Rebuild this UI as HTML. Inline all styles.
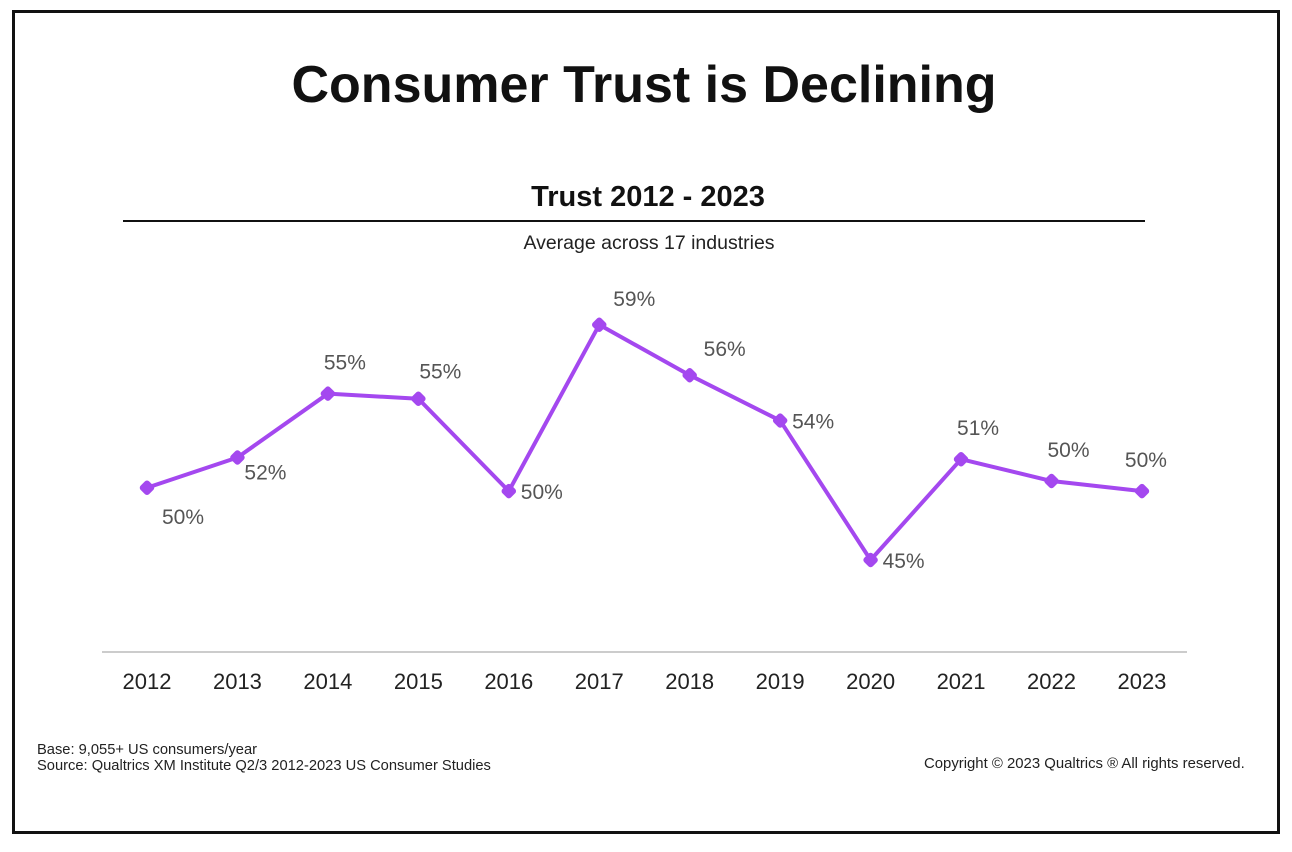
<!DOCTYPE html>
<html><head><meta charset="utf-8"><style>
body{margin:0;background:#fff;width:1292px;height:852px;overflow:hidden;font-family:"Liberation Sans",sans-serif}
#frame{position:absolute;left:12px;top:10px;width:1262px;height:818px;border:3px solid #111;}
.t{position:absolute;white-space:nowrap}
</style></head><body>
<div id="frame"></div>
<div class="t" style="left:0;width:1288px;text-align:center;top:55px;font-size:52px;font-weight:bold;color:#111">Consumer Trust is Declining</div>
<div class="t" style="left:0;width:1296px;text-align:center;top:181px;font-size:29px;font-weight:bold;color:#111">Trust 2012 - 2023</div>
<div style="position:absolute;left:123px;top:220px;width:1022px;height:2px;background:#111"></div>
<div class="t" style="left:0;width:1298px;text-align:center;top:232px;font-size:19.5px;color:#222">Average across 17 industries</div>
<svg id="chart" width="1292" height="852" style="position:absolute;left:0;top:0"></svg>
<div class="t" style="left:37px;top:742px;font-size:14.7px;line-height:16px;color:#222">Base: 9,055+ US consumers/year<br>Source: Qualtrics XM Institute Q2/3 2012-2023 US Consumer Studies</div>
<div class="t" style="left:924px;top:756px;font-size:14.9px;color:#222">Copyright © 2023 Qualtrics ® All rights reserved.</div>
<script>
const years=["2012","2013","2014","2015","2016","2017","2018","2019","2020","2021","2022","2023"];
const values=[49.3,51.1,54.9,54.6,49.1,59.0,56.0,53.3,45.0,51.0,49.7,49.1];
const labels=["50%","52%","55%","55%","50%","59%","56%","54%","45%","51%","50%","50%"];
const placement=["below","belowNear","above","aboveMid","right","aboveRight","aboveRight","right","right","above","above","aboveNear"];
const svg=document.getElementById('chart');
const NS='http://www.w3.org/2000/svg';
const x0=147,dx=90.45;
const xs=i=>x0+i*dx;
const ys=v=>560-(v-45)*16.8;
function mk(t,a){const e=document.createElementNS(NS,t);for(const k in a)e.setAttribute(k,a[k]);svg.appendChild(e);return e;}
const ax=mk('line',{x1:102,x2:1187,y1:652,y2:652,stroke:'#ccc','stroke-width':2});


years.forEach((y,i)=>{const t=mk('text',{x:xs(i),y:689,'text-anchor':'middle','font-size':22,fill:'#222','font-family':'Liberation Sans'});t.textContent=y;

});
const pl=mk('polyline',{points:values.map((v,i)=>xs(i)+','+ys(v)).join(' '),fill:'none',stroke:'#a448ef','stroke-width':4,'stroke-linejoin':'round'});


const off={below:[36,36],belowNear:[28,22],above:[17,-24],aboveNear:[4,-24],aboveMid:[22,-20],aboveRight:[35,-19],right:[33,8]};
values.forEach((v,i)=>{const x=xs(i),y=ys(v);
const d=mk('rect',{x:x-6,y:y-6,width:12,height:12,rx:3,fill:'#a448ef',transform:`rotate(45 ${x} ${y})`});


const o=off[placement[i]];
const t=mk('text',{x:x+o[0],y:y+o[1],'text-anchor':'middle','font-size':21,fill:'#555','font-family':'Liberation Sans'});t.textContent=labels[i];

});
</script>
</body></html>
